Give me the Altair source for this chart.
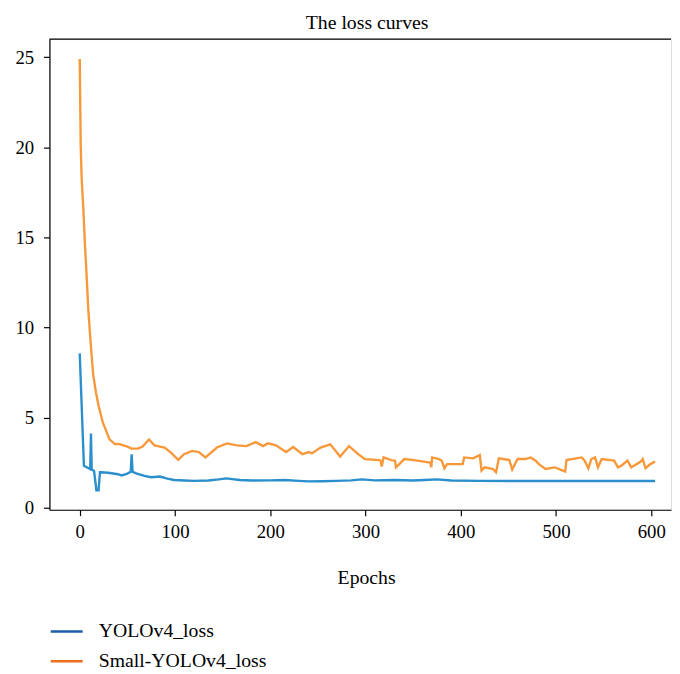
import altair as alt
import pandas as pd

# ---- data ----
series_names = ["YOLOv4_loss", "Small-YOLOv4_loss"]

epochs_yolo = [0, 4.4, 11, 11.8, 12.6, 15, 16.8, 17.5, 19.8, 21.2, 22, 30, 40, 44, 50, 53.5,
               54.5, 55.5, 60, 68, 75, 84, 92, 99, 110, 120, 135, 146, 154, 160, 168, 180,
               200, 215, 230, 240, 255, 270, 285, 296, 310, 330, 350, 362, 375, 390, 420,
               450, 500, 550, 604]
loss_yolo = [8.57, 2.34, 2.16, 4.13, 2.12, 2.06, 1.3, 0.97, 0.97, 1.98, 1.98, 1.95, 1.87, 1.8,
             1.9, 2.0, 2.98, 2.0, 1.9, 1.78, 1.7, 1.74, 1.62, 1.55, 1.52, 1.5, 1.52, 1.58,
             1.64, 1.6, 1.55, 1.52, 1.53, 1.55, 1.5, 1.47, 1.48, 1.5, 1.53, 1.58, 1.53, 1.55,
             1.52, 1.55, 1.58, 1.52, 1.5, 1.49, 1.49, 1.49, 1.49]

epochs_small = [0, 1, 2, 3.8, 5.5, 7.2, 9, 11.3, 14, 17, 20, 24.4, 31.3, 37.2, 41, 45.8, 50,
                54.5, 61, 66, 72.7, 78.5, 89, 95.8, 103.4, 109.5, 118, 125, 132, 144, 154.5,
                165, 175, 184.8, 192.5, 197.6, 206, 216.6, 224, 233.8, 240.6, 244, 252.8, 263,
                273.4, 282.7, 292.3, 299.3, 314.8, 316, 317, 319, 327, 331, 332, 335, 340.6,
                351, 361, 368, 369, 370, 377, 380, 382.8, 385.6, 402, 403.6, 413, 420, 421.8,
                425, 433.8, 437, 440, 451, 454, 459.6, 468, 473.4, 478.6, 482, 489, 499, 509.6,
                511, 527, 530, 534, 537, 541, 544, 548, 561, 565, 568.6, 575, 579, 589, 591,
                594, 599, 604]
loss_small = [24.9, 20.2, 18.3, 16.55, 14.6, 12.9, 11.0, 9.27, 7.45, 6.4, 5.62, 4.71, 3.8, 3.53,
              3.55, 3.47, 3.4, 3.29, 3.29, 3.4, 3.8, 3.47, 3.35, 3.07, 2.67, 2.98, 3.16, 3.1,
              2.8, 3.35, 3.58, 3.47, 3.43, 3.65, 3.43, 3.58, 3.47, 3.1, 3.38, 2.98, 3.1, 3.03,
              3.35, 3.53, 2.85, 3.43, 2.98, 2.71, 2.65, 2.6, 2.3, 2.8, 2.65, 2.62, 2.25, 2.4,
              2.71, 2.65, 2.57, 2.52, 2.25, 2.8, 2.71, 2.62, 2.2, 2.43, 2.43, 2.8, 2.75, 2.93,
              2.07, 2.25, 2.16, 1.98, 2.75, 2.66, 2.13, 2.71, 2.71, 2.8, 2.62, 2.43, 2.16, 2.25,
              2.02, 2.66, 2.8, 2.62, 2.2, 2.71, 2.8, 2.25, 2.71, 2.62, 2.25, 2.34, 2.62, 2.25,
              2.57, 2.71, 2.2, 2.43, 2.57]

x_ticks = [0, 100, 200, 300, 400, 500, 600]
y_ticks = [0, 5, 10, 15, 20, 25]

line_colors = ["#2a8fcc", "#f7993a"]
legend_colors = ["#1f5ca8", "#e8701f"]

FONT = "Liberation Serif"

rows = []
for i, (e, v) in enumerate(zip(epochs_yolo, loss_yolo)):
    rows.append({"epoch": e, "loss": v, "series": series_names[0], "idx": i})
for i, (e, v) in enumerate(zip(epochs_small, loss_small)):
    rows.append({"epoch": e, "loss": v, "series": series_names[1], "idx": i})
df = pd.DataFrame(rows)
df["label"] = df["series"]

W, H = 630, 477

x_enc = alt.X(
    "epoch:Q",
    scale=alt.Scale(domain=[-31.8, 620.7], nice=False, zero=False),
    axis=alt.Axis(values=x_ticks, title="Epochs", titleFont=FONT, titleFontSize=20,
                  titleFontWeight="normal", titleColor="black", titlePadding=27,
                  titleX=321, titleAlign="center",
                  labelFont=FONT, labelFontSize=19, labelColor="black", labelPadding=7,
                  tickSize=6, tickColor="black", tickWidth=1.2,
                  domainColor="black", domainWidth=1.2, grid=False, format="d"),
)
y_enc = alt.Y(
    "loss:Q",
    scale=alt.Scale(domain=[-0.1, 26.0], nice=False, zero=False),
    axis=alt.Axis(values=y_ticks, title=None,
                  labelFont=FONT, labelFontSize=19, labelColor="black", labelPadding=10,
                  tickSize=6, tickColor="black", tickWidth=1.2,
                  domainColor="black", domainWidth=1.2, grid=False, format="d"),
)

# plot-line colours (domain listed in reverse order so this scale stays separate
# from the legend's scale, whose colours are darker)
lines = alt.Chart(df).mark_line(strokeWidth=2.4, clip=True).encode(
    x=x_enc,
    y=y_enc,
    stroke=alt.Stroke("series:N",
                      scale=alt.Scale(domain=series_names[::-1], range=line_colors[::-1]),
                      legend=None),
    order="idx:Q",
)

legend_layer = alt.Chart(df).mark_line(strokeOpacity=0, clip=True).encode(
    x=x_enc,
    y=y_enc,
    color=alt.Color(
        "label:N",
        scale=alt.Scale(domain=series_names, range=legend_colors),
        legend=alt.Legend(title=None, orient="none", legendX=0, legendY=583,
                          direction="vertical", symbolType="stroke", symbolSize=1050,
                          symbolStrokeWidth=2.5, symbolOpacity=1,
                          labelFont=FONT, labelFontSize=20, labelColor="black",
                          labelOffset=15, labelLimit=400, rowPadding=2),
    ),
    order="idx:Q",
)

top_spine = alt.Chart(pd.DataFrame({"k": [0]})).mark_rule(color="black", strokeWidth=1.2).encode(
    x=alt.value(0), x2=alt.value(W), y=alt.value(0)
)

chart = alt.layer(lines, legend_layer, top_spine).properties(
    width=W,
    height=H,
    title=alt.Title("The loss curves", font=FONT, fontSize=20, fontWeight="normal",
                    color="black", anchor="middle", dx=7, offset=6),
    padding={"left": 7, "top": 0, "right": 0, "bottom": 0},
).configure_view(stroke=None).configure(background="white")

chart.save("out.html", embed_options={"renderer": "svg", "actions": False})
